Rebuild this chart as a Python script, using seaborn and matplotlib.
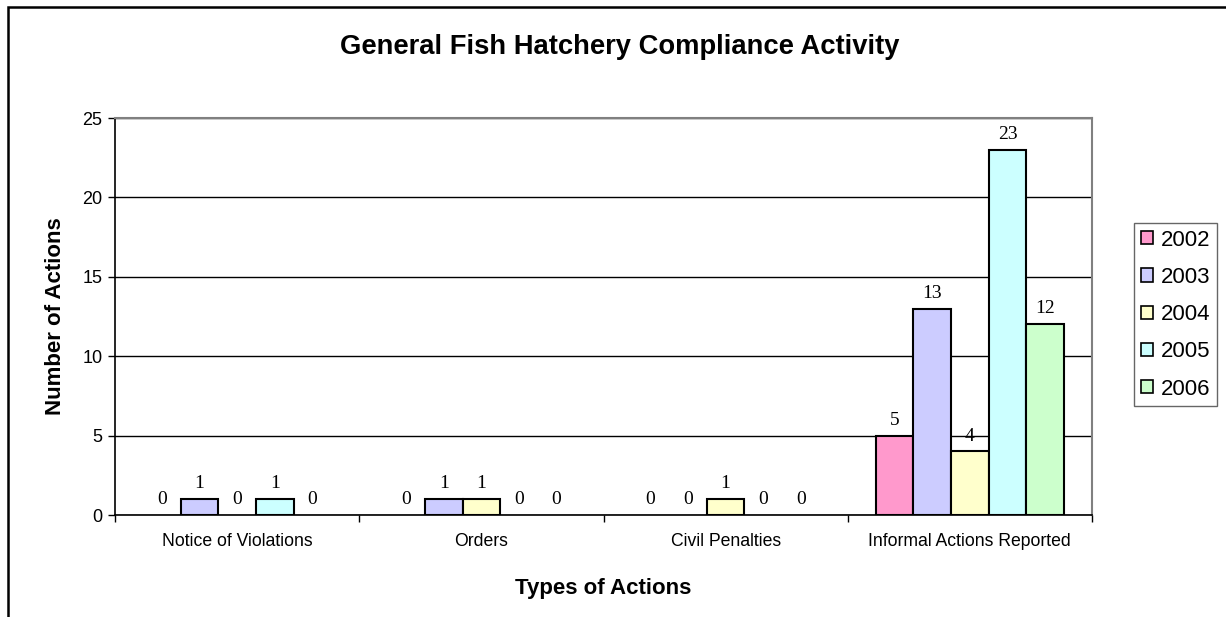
import matplotlib
matplotlib.use("Agg")
import matplotlib.pyplot as plt
import seaborn as sns
import pandas as pd
from matplotlib.patches import Patch, Rectangle

categories = ["Notice of Violations", "Orders", "Civil Penalties", "Informal Actions Reported"]
years = ["2002", "2003", "2004", "2005", "2006"]
values = {
    "2002": [0, 0, 0, 5],
    "2003": [1, 1, 0, 13],
    "2004": [0, 1, 1, 4],
    "2005": [1, 0, 0, 23],
    "2006": [0, 0, 0, 12],
}
colors = ["#FF99CC", "#CCCCFF", "#FFFFCC", "#CCFFFF", "#CCFFCC"]
yticks = [0, 5, 10, 15, 20, 25]

rows = []
for y in years:
    for c, v in zip(categories, values[y]):
        rows.append({"Type": c, "Year": y, "Count": v})
df = pd.DataFrame(rows)

sns.set_theme(style="white")
plt.rcParams["font.family"] = ["Liberation Sans", "DejaVu Sans"]
plt.rcParams["text.color"] = "black"
plt.rcParams["axes.labelcolor"] = "black"
plt.rcParams["xtick.color"] = "black"
plt.rcParams["ytick.color"] = "black"

W, H = 1226, 617
fig = plt.figure(figsize=(W / 100, H / 100), dpi=100)
ax = fig.add_axes([115 / W, 1 - 515 / H, (1092 - 115) / W, (515 - 118) / H])

sns.barplot(data=df, x="Type", y="Count", hue="Year", order=categories, hue_order=years,
            palette=colors, edgecolor="black", linewidth=1.5, width=0.77, saturation=1,
            legend=False, ax=ax, zorder=3)

for cont in ax.containers:
    for p in cont.patches:
        if p.get_height() == 0:
            p.set_linewidth(0)
    ax.bar_label(cont, padding=5, fontsize=14, family="Liberation Serif", color="black")

ax.set_ylim(0, 25)
ax.set_xlim(-0.5, 3.5)
ax.set_yticks(yticks)
ax.set_yticklabels([str(t) for t in yticks], fontsize=13)
ax.yaxis.grid(True, color="black", linewidth=1, zorder=0)
ax.set_axisbelow(True)
ax.tick_params(axis="y", length=5, width=1, color="black", left=True, direction="out", pad=4)
ax.set_xticks(range(len(categories)))
ax.set_xticklabels(categories, fontsize=12.7)
ax.tick_params(axis="x", which="major", length=0, pad=13)
ax.set_xticks([-0.5, 0.5, 1.5, 2.5, 3.5], minor=True)
ax.tick_params(axis="x", which="minor", length=5, width=1, color="black", bottom=True, direction="out")

for s in ["top", "right"]:
    ax.spines[s].set_color("#808080")
    ax.spines[s].set_linewidth(1.5)
for s in ["left", "bottom"]:
    ax.spines[s].set_color("black")
    ax.spines[s].set_linewidth(1.2)

ax.set_xlabel("Types of Actions", fontsize=16, fontweight="bold", labelpad=20)
ax.set_ylabel("Number of Actions", fontsize=16, fontweight="bold", labelpad=12)
fig.text(620 / W, 1 - 47 / H, "General Fish Hatchery Compliance Activity",
         fontsize=19.7, fontweight="bold", ha="center", va="center")

handles = [Patch(facecolor=c, edgecolor="black", linewidth=1.2) for c in colors]
leg = fig.legend(handles, years, loc="upper left", bbox_to_anchor=(1134 / W, 1 - 223 / H),
                 bbox_transform=fig.transFigure, frameon=True, fancybox=False, fontsize=16,
                 handlelength=0.55, handleheight=0.55, handletextpad=0.35, labelspacing=0.73,
                 borderpad=0.3, borderaxespad=0)
leg.get_frame().set_edgecolor("#404040")
leg.get_frame().set_linewidth(1)

fig.patches.append(Rectangle((8 / W, -0.1), 1.2, 1.1 - 7 / H, transform=fig.transFigure,
                             fill=False, edgecolor="black", linewidth=1.8))

fig.savefig("out.png", dpi=100)
